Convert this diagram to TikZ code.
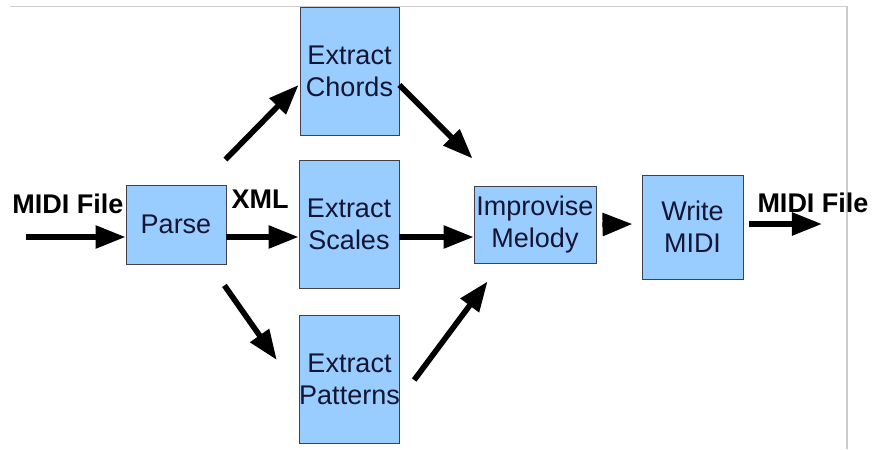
\documentclass[tikz,border=0pt]{standalone}
\usepackage{fontspec}
\setmainfont{Liberation Sans}
\usetikzlibrary{positioning, arrows.meta}
\definecolor{boxblue}{rgb}{0.6, 0.8, 1.0}
\definecolor{boxedge}{rgb}{0.25, 0.25, 0.3}
\definecolor{inkblue}{rgb}{0.08, 0.08, 0.2}
\definecolor{framegray}{rgb}{0.8, 0.8, 0.8}

\begin{document}
\begin{tikzpicture}[
  x=0.025cm, y=-0.025cm,
  stage/.style={
    draw=boxedge,
    line width=0.6pt,
    fill=boxblue,
    text=inkblue,
    align=center,
    inner sep=0mm,
    font=\fontsize{19.2}{22.7}\selectfont
  },
  flow arrow/.style={
    -{Triangle[length=7.5mm, width=5.5mm]},
    line width=4pt,
    draw=black
  },
  data label/.style={
    inner sep=0mm,
    font=\fontsize{19.2}{22.7}\selectfont\bfseries
  },
  frame line/.style={
    draw=framegray,
    line width=1pt
  }
]
\useasboundingbox (0,0) rectangle (876,449);

\draw[frame line] (10,6.5) -- (847,6.5) -- (847,449);

\node[stage, minimum width=2.5cm, minimum height=1.975cm] (parse) at (176,224.5) {Parse};
\node[stage, minimum width=2.475cm, minimum height=3.2cm] (chords) at (349.5,71) {Extract\\Chords};
\node[stage, minimum width=2.5cm, minimum height=3.2cm] (scales) at (349,224) {Extract\\Scales};
\node[stage, minimum width=2.475cm, minimum height=3.2cm] (patterns) at (349.5,379) {Extract\\Patterns};
\node[stage, minimum width=3.05cm, minimum height=1.925cm] (improvise) at (535,224.5) {Improvise\\Melody};
\node[stage, minimum width=2.525cm, minimum height=2.6cm] (write) at (692.5,227) {Write\\MIDI};

\coordinate (midi in) at (26,237);
\coordinate (midi out) at (822,224);

\node[data label] (in label) at (68,204) {MIDI File};
\node[data label] (xml label) at (260,199) {XML};
\node[data label] (out label) at (813,203) {MIDI File};

\draw[flow arrow] (midi in) -- ([shift={(0,12.5)}]parse.west);
\draw[flow arrow] ([shift={(0,12.5)}]parse.east) -- ([shift={(0,13)}]scales.west);
\draw[flow arrow] ([shift={(-1,-25)}]parse.north east) -- ([shift={(-1,14)}]chords.west);
\draw[flow arrow] ([shift={(-2,21)}]parse.south east) -- ([shift={(-22,-19)}]patterns.west);

\draw[flow arrow] ([shift={(0,14)}]chords.east) -- ([shift={(-1,-27)}]improvise.north west);
\draw[flow arrow] ([shift={(0,13)}]scales.east) -- ([shift={(0,12.5)}]improvise.west);
\draw[flow arrow] ([shift={(14,1)}]patterns.east) -- ([shift={(14,18)}]improvise.south west);

\draw[flow arrow] ([shift={(6,0)}]improvise.east) -- ([shift={(-9,-3)}]write.west);
\draw[flow arrow] ([shift={(6,-3)}]write.east) -- (midi out);

\end{tikzpicture}
\end{document}
